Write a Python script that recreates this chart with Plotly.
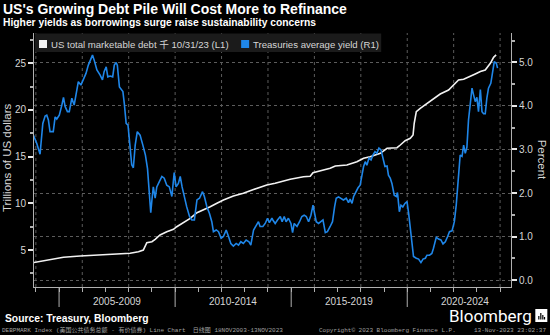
import plotly.graph_objects as go

# US total marketable debt, trillions of US dollars (decimal year -> value)
debt_t = [2003.88, 2004.47, 2005.19, 2005.91, 2006.63, 2007.34, 2008.06, 2008.42, 2008.63, 2008.78,
          2009.00, 2009.14, 2009.35, 2009.64, 2009.93, 2010.07, 2010.36, 2010.65, 2010.94, 2011.22,
          2011.51, 2011.80, 2012.08, 2012.51, 2012.94, 2013.23, 2013.52, 2013.95, 2014.31, 2014.53,
          2014.96, 2015.53, 2015.82, 2015.94, 2016.25, 2016.68, 2016.90, 2017.40, 2017.83, 2018.12,
          2018.40, 2018.84, 2019.13, 2019.56, 2019.70, 2019.91, 2020.13, 2020.25, 2020.30, 2020.39,
          2020.56, 2020.85, 2021.13, 2021.42, 2021.78, 2022.00, 2022.21, 2022.43, 2022.64, 2022.93,
          2023.15, 2023.36, 2023.58, 2023.72, 2023.83]
debt_v = [3.64, 3.93, 4.22, 4.36, 4.46, 4.54, 4.65, 4.82, 5.00, 5.78,
          5.89, 6.14, 6.61, 6.96, 7.21, 7.49, 7.92, 8.39, 8.99, 9.28,
          9.64, 10.00, 10.35, 10.78, 11.07, 11.35, 11.60, 11.96, 12.14, 12.30,
          12.57, 12.85, 12.90, 13.28, 13.49, 13.75, 13.99, 14.10, 14.45, 14.82,
          14.99, 15.35, 15.89, 15.95, 16.24, 16.70, 16.96, 17.31, 18.57, 19.81,
          20.17, 20.70, 21.24, 21.70, 22.13, 22.67, 23.20, 23.28, 23.55, 23.84,
          24.10, 24.27, 24.99, 25.63, 25.88]

# Treasuries average yield, percent (decimal year -> value)
yield_t = [2003.88, 2004.04, 2004.18, 2004.30, 2004.40, 2004.47, 2004.54, 2004.61, 2004.75, 2004.83,
           2004.90, 2005.01, 2005.12, 2005.19, 2005.26, 2005.36, 2005.44, 2005.55, 2005.65, 2005.74,
           2005.83, 2005.94, 2006.05, 2006.16, 2006.26, 2006.37, 2006.44, 2006.51, 2006.63, 2006.77,
           2006.87, 2006.94, 2007.03, 2007.10, 2007.20, 2007.31, 2007.38, 2007.46, 2007.51, 2007.60,
           2007.75, 2007.81, 2007.89, 2007.97, 2008.06, 2008.13, 2008.20, 2008.28, 2008.37, 2008.49,
           2008.61, 2008.72, 2008.81, 2008.89, 2008.95, 2009.00, 2009.06, 2009.14, 2009.21, 2009.32,
           2009.43, 2009.53, 2009.64, 2009.75, 2009.86, 2009.96, 2010.04, 2010.14, 2010.22, 2010.30,
           2010.40, 2010.50, 2010.62, 2010.72, 2010.83, 2010.94, 2011.05, 2011.18, 2011.26, 2011.37,
           2011.48, 2011.58, 2011.65, 2011.77, 2011.87, 2011.98, 2012.08, 2012.20, 2012.30, 2012.40,
           2012.51, 2012.63, 2012.73, 2012.83, 2012.94, 2013.06, 2013.18, 2013.26, 2013.38, 2013.49,
           2013.59, 2013.66, 2013.78, 2013.88, 2013.98, 2014.06, 2014.17, 2014.21, 2014.31, 2014.41,
           2014.53, 2014.61, 2014.70, 2014.78, 2014.88, 2014.99, 2015.06, 2015.13, 2015.25, 2015.36,
           2015.46, 2015.56, 2015.65, 2015.75, 2015.85, 2015.94, 2016.00, 2016.08, 2016.18, 2016.28,
           2016.37, 2016.47, 2016.56, 2016.68, 2016.78, 2016.87, 2016.94, 2017.04, 2017.14, 2017.25,
           2017.37, 2017.47, 2017.54, 2017.62, 2017.69, 2017.79, 2017.88, 2017.97, 2018.05, 2018.12,
           2018.19, 2018.26, 2018.35, 2018.44, 2018.52, 2018.61, 2018.69, 2018.78, 2018.87, 2018.95,
           2019.04, 2019.13, 2019.19, 2019.27, 2019.34, 2019.44, 2019.53, 2019.58, 2019.66, 2019.73,
           2019.81, 2019.90, 2019.99, 2020.06, 2020.13, 2020.20, 2020.27, 2020.39, 2020.49, 2020.59,
           2020.68, 2020.78, 2020.85, 2020.96, 2021.06, 2021.13, 2021.25, 2021.35, 2021.45, 2021.54,
           2021.64, 2021.74, 2021.82, 2021.93, 2022.03, 2022.11, 2022.21, 2022.28, 2022.36, 2022.43,
           2022.50, 2022.57, 2022.64, 2022.72, 2022.79, 2022.86, 2022.93, 2023.00, 2023.07, 2023.15,
           2023.22, 2023.29, 2023.36, 2023.43, 2023.50, 2023.60, 2023.69, 2023.75, 2023.84, 2023.89]
yield_v = [3.35, 3.14, 2.89, 3.60, 3.77, 3.79, 3.68, 3.41, 3.41, 3.75,
           3.70, 3.79, 4.02, 4.20, 3.99, 3.87, 3.87, 4.18, 4.02, 4.29,
           4.56, 4.48, 4.60, 4.75, 4.94, 5.07, 5.17, 5.06, 4.83, 4.71,
           4.60, 4.79, 4.90, 4.67, 4.69, 4.67, 4.94, 5.00, 4.94, 4.44,
           4.33, 4.06, 3.60, 3.56, 2.99, 2.65, 2.58, 3.10, 3.41, 3.33,
           3.10, 2.87, 2.56, 1.99, 1.55, 1.84, 2.14, 1.88, 2.14, 2.26,
           2.38, 2.34, 2.18, 2.14, 1.92, 2.47, 2.14, 2.22, 2.38, 2.14,
           1.88, 1.68, 1.46, 1.38, 1.38, 1.84, 1.88, 2.03, 1.92, 1.68,
           1.53, 1.34, 1.11, 1.15, 1.11, 0.96, 1.00, 1.15, 1.00, 0.84,
           0.78, 0.84, 0.80, 0.88, 0.84, 0.92, 0.88, 0.80, 1.15, 1.26,
           1.34, 1.23, 1.23, 1.30, 1.42, 1.32, 1.42, 1.38, 1.30, 1.38,
           1.46, 1.34, 1.46, 1.34, 1.42, 1.30, 1.09, 1.30, 1.23, 1.34,
           1.46, 1.49, 1.46, 1.34, 1.49, 1.72, 1.53, 1.34, 1.30, 1.34,
           1.38, 1.09, 1.11, 1.23, 1.34, 1.68, 1.88, 1.91, 1.88, 1.84,
           1.88, 1.78, 1.86, 1.76, 1.92, 2.03, 2.12, 2.18, 2.45, 2.61,
           2.72, 2.64, 2.80, 2.76, 2.87, 2.95, 2.91, 3.03, 2.99, 2.80,
           2.61, 2.62, 2.41, 2.34, 2.22, 1.95, 1.92, 2.01, 1.57, 1.72,
           1.68, 1.76, 1.80, 1.53, 1.15, 0.77, 0.54, 0.50, 0.48, 0.40,
           0.48, 0.50, 0.57, 0.57, 0.61, 0.73, 0.98, 0.94, 0.92, 0.83,
           0.88, 1.00, 1.11, 1.13, 1.34, 1.72, 2.30, 2.87, 2.84, 3.10,
           2.91, 3.05, 3.68, 4.14, 4.41, 4.25, 4.10, 4.20, 3.87, 4.38,
           3.87, 3.82, 3.82, 4.18, 4.41, 4.52, 4.79, 5.02, 4.98, 4.87]

# x-axis period labels and their centres
period_labels = ["2005-2009", "2010-2014", "2015-2019", "2020-2024"]
period_centres = [2007.5, 2012.5, 2017.5, 2022.5]
period_breaks = [2005, 2010, 2015, 2020]

left_ticks = [5, 10, 15, 20, 25]
right_ticks = [0, 1, 2, 3, 4, 5]

WIDTH, HEIGHT = 550, 335
L, R, T, B = 34, 39.3, 33, 48
PW, PH = WIDTH - L - R, HEIGHT - T - B


def px(x):
    return (x - L) / PW


def py(y):
    return (HEIGHT - B - y) / PH


FONT = "Liberation Sans, Arial, Noto Sans CJK SC, sans-serif"
MONO = "Liberation Mono, DejaVu Sans Mono, Noto Sans CJK SC, monospace"
WHITE = "#f2f2f2"
BLUE = "#1f86e8"
GRID = "#5c5c5c"
AXIS = "#b0b0b0"
TXT = "#d6d6d6"

fig = go.Figure()
fig.add_trace(go.Scatter(x=debt_t, y=debt_v, mode="lines", yaxis="y",
                         line=dict(color=WHITE, width=1.6), showlegend=False))
fig.add_trace(go.Scatter(x=yield_t, y=yield_v, mode="lines", yaxis="y2",
                         line=dict(color=BLUE, width=1.6), showlegend=False))

shapes = []
# vertical dotted grid every two years
for yr in range(2004, 2025, 2):
    shapes.append(dict(type="line", xref="x", yref="paper", x0=yr, x1=yr, y0=0, y1=1,
                       line=dict(color=GRID, width=1, dash="dot"), layer="below"))
# period separators below the axis
for yr in period_breaks:
    shapes.append(dict(type="line", xref="x", yref="paper", x0=yr, x1=yr, y0=0, y1=py(307),
                       line=dict(color=AXIS, width=1)))
# legend box
shapes.append(dict(type="rect", xref="paper", yref="paper", x0=px(35), x1=px(381),
                   y0=py(52), y1=py(33.5), fillcolor="#1b1b1b", line=dict(width=0)))
shapes.append(dict(type="rect", xref="paper", yref="paper", x0=px(39), x1=px(47),
                   y0=py(48), y1=py(40), fillcolor=WHITE, line=dict(width=0)))
shapes.append(dict(type="rect", xref="paper", yref="paper", x0=px(241), x1=px(249),
                   y0=py(48), y1=py(40), fillcolor=BLUE, line=dict(width=0)))
# logo badge
shapes.append(dict(type="rect", xref="paper", yref="paper", x0=px(535), x1=px(547),
                   y0=py(322), y1=py(309), fillcolor="#ffffff", line=dict(width=0)))
for bx, btop in [(538.5, 316), (540.5, 313), (542.5, 315), (544.2, 317)]:
    shapes.append(dict(type="line", xref="paper", yref="paper", x0=px(bx), x1=px(bx),
                       y0=py(319.5), y1=py(btop), line=dict(color="#000000", width=1.2)))

annotations = []
for lab, c in zip(period_labels, period_centres):
    annotations.append(dict(x=c, y=py(301), xref="x", yref="paper", text=lab, showarrow=False,
                            font=dict(family=FONT, size=10, color=TXT), xanchor="center",
                            yanchor="middle"))


def note(x, y, text, size, color=TXT, anchor="left", angle=0, family=FONT):
    annotations.append(dict(x=px(x), y=py(y), xref="paper", yref="paper", text=text,
                            showarrow=False, xanchor=anchor, yanchor="middle", textangle=angle,
                            font=dict(family=family, size=size, color=color)))


note(1, 9, "<b>US's Growing Debt Pile Will Cost More to Refinance</b>", 14, "#ffffff")
note(1, 22, "<b>Higher yields as borrowings surge raise sustainability concerns</b>", 10.3, "#ffffff")
note(49, 44, "US total marketable debt 千 10/31/23 (L1)", 9.6, TXT)
note(251, 44, "Treasuries average yield (R1)", 9.6, TXT)
note(7, 158, "Trillions of US dollars", 11.5, TXT, anchor="center", angle=-90)
note(542, 160, "Percent", 11.5, TXT, anchor="center", angle=90)
note(3, 318, "<b>Source: Treasury, Bloomberg</b>", 10.3, "#ffffff")
note(447, 316, "Bloomberg", 17, "#ffffff", family="Roboto, Liberation Sans, sans-serif")
note(0, 330, "DEBPMARK Index (美国公共债务总额 - 有价债券) Line Chart  日线图 18NOV2003-13NOV2023",
     6, "#a0a0a0", family=MONO)
note(317, 330, "Copyright© 2023 Bloomberg Finance L.P.", 6, "#a0a0a0", family=MONO)
note(548, 330, "13-Nov-2023 23:02:37", 6, "#a0a0a0", anchor="right", family=MONO)

fig.update_layout(
    width=WIDTH, height=HEIGHT,
    margin=dict(l=L, r=R, t=T, b=B, pad=0),
    paper_bgcolor="#000000", plot_bgcolor="#000000",
    showlegend=False,
    xaxis=dict(range=[2003.92, 2024.47], showgrid=False, zeroline=False,
               tickvals=list(range(2004, 2025)), ticks="outside", ticklen=4,
               tickcolor=AXIS, tickwidth=1, showticklabels=False,
               showline=True, linecolor=AXIS, linewidth=1),
    yaxis=dict(range=[1.04, 28.23], tickvals=left_ticks, ticks="outside", ticklen=5,
               tickwidth=2, tickcolor="#e8e8e8", showgrid=False, zeroline=False,
               showline=True, linecolor=AXIS, linewidth=1,
               tickfont=dict(family=FONT, size=10, color=TXT),
               minor=dict(tickvals=[2.5, 7.5, 12.5, 17.5, 22.5, 27.5], ticks="outside",
                          ticklen=3, tickcolor=AXIS)),
    yaxis2=dict(range=[-0.161, 5.678], overlaying="y", side="right", tickvals=right_ticks,
                ticktext=[f"{v:.1f}" for v in right_ticks], ticks="outside", ticklen=5,
                tickwidth=2, tickcolor="#e8e8e8", showgrid=True, gridcolor=GRID,
                griddash="dot", gridwidth=1, zeroline=False, showline=True,
                linecolor=AXIS, linewidth=1,
                tickfont=dict(family=FONT, size=10, color=TXT),
                minor=dict(tickvals=[0.5, 1.5, 2.5, 3.5, 4.5, 5.5], ticks="outside",
                           ticklen=3, tickcolor=AXIS)),
    shapes=shapes,
    annotations=annotations,
)

fig.write_html("out.html")
